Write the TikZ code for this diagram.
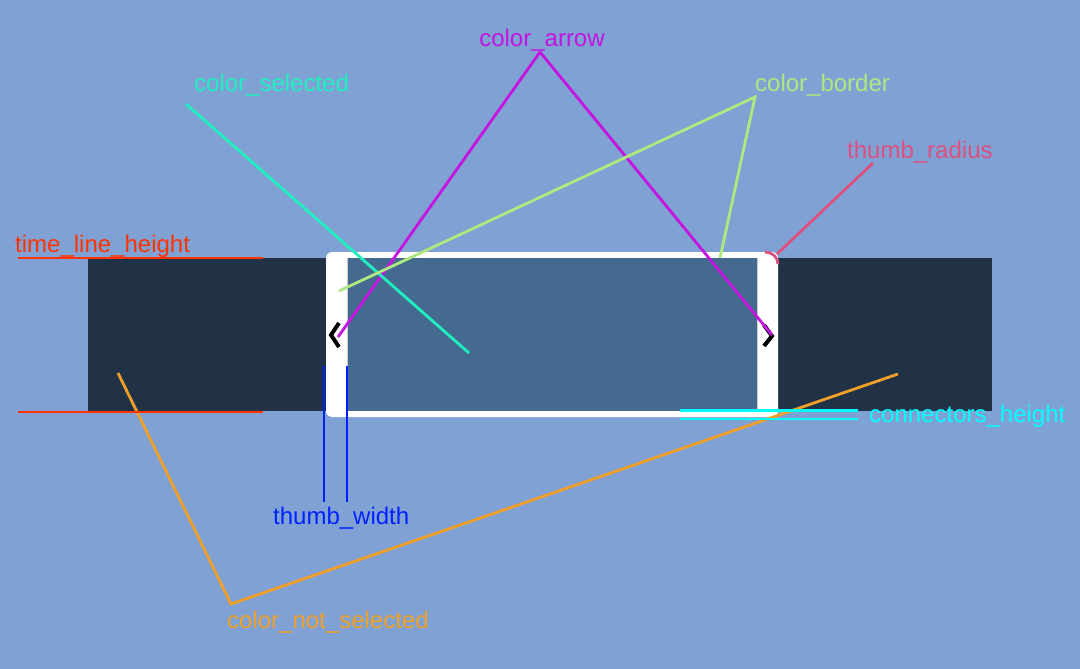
\documentclass[tikz,border=0pt]{standalone}
\usepackage{fontspec}
\setmainfont{Liberation Sans}
\definecolor{bgblue}{RGB}{127,161,212}
\definecolor{timeline}{RGB}{33,50,71}
\definecolor{selfill}{RGB}{68,106,144}
\definecolor{arrowcol}{RGB}{196,20,224}
\definecolor{selcol}{RGB}{32,240,192}
\definecolor{bordercol}{RGB}{176,232,128}
\definecolor{radiuscol}{RGB}{222,80,128}
\definecolor{heightcol}{RGB}{255,51,0}
\definecolor{connectcol}{RGB}{0,255,255}
\definecolor{widthcol}{RGB}{0,34,255}
\definecolor{notselcol}{RGB}{240,160,40}
\begin{document}
\begin{tikzpicture}[x=1pt,y=-1pt]
    \tikzset{
      lbl/.style={
        font=\fontsize{24}{28}\selectfont,
        inner sep=0pt,
        anchor=base west,
      },
      guide/.style={line width=2.8pt},
    }
    \useasboundingbox (0,0) rectangle (1080,669);
    \fill[bgblue] (0,0) rectangle (1080,669);
    %
    % time line and selection
    \fill[timeline] (88,258) rectangle (992,411);
    \fill[white,rounded corners=6pt] (326,252) rectangle (778,417);
    \fill[selfill] (347,258) rectangle (757,411);
    \draw[black!20,line width=0.8pt] (347,258) -- (347,411)
      (757,258) -- (757,411);
    \draw[line width=4pt] (339,323) -- (331,335) -- (339,347);
    \draw[line width=4pt] (764,325) -- (772,336) -- (764,346);
    %
    % labels
    \node[lbl,text=arrowcol,anchor=base] (arrowlbl) at (542,47) {color\_arrow};
    \node[lbl,text=selcol] (sellbl) at (194,92) {color\_selected};
    \node[lbl,text=bordercol] (borderlbl) at (755,92) {color\_border};
    \node[lbl,text=radiuscol] (radiuslbl) at (847,158) {thumb\_radius};
    \node[lbl,text=heightcol] (heightlbl) at (15,252) {time\_line\_height};
    \node[lbl,text=connectcol] (connectlbl) at (869,422) {connectors\_height};
    \node[lbl,text=widthcol] (widthlbl) at (273,524) {thumb\_width};
    \node[lbl,text=notselcol] (notsellbl) at (227,628) {color\_not\_selected};
    %
    % connector points
    \coordinate (arrowtop) at (540,52);
    \coordinate (arrowleft) at (338,337);
    \coordinate (arrowright) at (772,335);
    \coordinate (seltop) at (186,104);
    \coordinate (selend) at (469,353);
    \coordinate (bordertop) at (755,97);
    \coordinate (borderleft) at (339,291);
    \coordinate (borderright) at (720,258);
    \coordinate (radiustop) at (873,163);
    \coordinate (radiusend) at (777,254);
    \coordinate (notseltop) at (231,604);
    \coordinate (notselleft) at (118,373);
    \coordinate (notselright) at (898,374);
    %
    \draw[guide,arrowcol] (arrowleft) -- (arrowtop) -- (arrowright);
    \draw[guide,selcol] (seltop) -- (selend);
    \draw[guide,bordercol] (borderleft) -- (bordertop) -- (borderright);
    \draw[guide,radiuscol] (radiustop) -- (radiusend);
    \draw[guide,radiuscol] (765,252) to[out=0,in=90] (778,264);
    \draw[guide,notselcol] (notselleft) -- (notseltop) -- (notselright);
    %
    \draw[guide,heightcol] (18,258) -- (263,258);
    \draw[guide,heightcol] (18,412) -- (263,412);
    \draw[guide,connectcol] (680,410.5) -- (858,410.5);
    \draw[guide,connectcol] (680,419) -- (858,419);
    \draw[guide,widthcol] (324,366) -- (324,502);
    \draw[guide,widthcol] (347,366) -- (347,502);
\end{tikzpicture}
\end{document}
